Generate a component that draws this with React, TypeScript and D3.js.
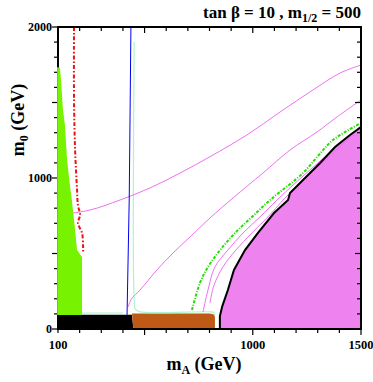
import React from 'react';
import * as d3 from 'd3';

// axis ranges and tick labels
const xDomain = [100, 1500];
const yDomain = [0, 2000];
const xTickLabels = [100, 1000, 1500];
const yTickLabels = [0, 1000, 2000];

// filled regions, [mA, m0]
const greenRegion = [[96, 1735], [109, 1728], [114, 1649], [123, 1450], [132, 1351], [142, 1119], [155, 954], [164, 854], [179, 656], [188, 523], [211, 477], [211, 93], [96, 93]];
const blackRegion = [[96, 0], [96, 95], [442, 95], [448, 0]];
const brownRegion = [[448, 0], [442, 103], [800, 103], [815, 100], [822, 93], [825, 80], [825, 0]];
const pinkBoundary = [[848, 0], [848, 86], [858, 146], [885, 258], [913, 391], [964, 523], [1024, 636], [1098, 768], [1163, 854], [1172, 901], [1232, 987], [1311, 1099], [1380, 1205], [1449, 1285], [1500, 1338]];

// contour lines
const magentaUpper = [[100, 755], [248, 788], [386, 854], [525, 934], [664, 1033], [816, 1152], [973, 1285], [1126, 1437], [1278, 1583], [1403, 1695], [1500, 1748]];
const magentaMid = [[424, 146], [440, 200], [479, 258], [557, 391], [631, 503], [710, 609], [802, 735], [909, 868], [1047, 1033], [1172, 1185], [1297, 1305], [1389, 1404], [1500, 1517]];
const magentaA = [[770, 113], [793, 258], [825, 411], [885, 523], [955, 636], [1033, 742], [1112, 854], [1191, 960], [1264, 1053], [1338, 1146], [1412, 1238], [1500, 1344]];
const magentaB = [[802, 172], [821, 291], [862, 411], [922, 523], [996, 636], [1070, 742], [1140, 854], [1214, 960], [1283, 1053], [1357, 1146], [1426, 1238], [1500, 1338]];
const greenDash = [[719, 126], [756, 305], [793, 411], [849, 523], [918, 636], [996, 742], [1080, 854], [1232, 1033], [1297, 1139], [1371, 1252], [1500, 1364]];
const redDash = [[174, 2000], [174, 1517], [179, 1185], [188, 921], [192, 821], [202, 755], [192, 702], [211, 636], [216, 543], [216, 505]];
const blueLine = [[437, 2000], [429, 854], [419, 93]];
const paleLeft = [[100, 106], [400, 106]];
const paleRight = [[452, 1900], [452, 200], [458, 130], [480, 113], [810, 113], [820, 108], [826, 95]];
const paleEdge = [[855, 150], [875, 230], [895, 300]];

const App = () => {
  const width = 373, height = 382;
  const x = d3.scaleLinear().domain(xDomain).range([58, 361]);
  const y = d3.scaleLinear().domain(yDomain).range([329, 27]);
  const area = d3.line<number[]>().x(d => x(d[0])).y(d => y(d[1]));
  const smooth = d3.line<number[]>().x(d => x(d[0])).y(d => y(d[1])).curve(d3.curveCatmullRom);
  const pinkPoly = pinkBoundary.concat([[1500, 0]]);
  const font = '"Liberation Serif", "Times New Roman", serif';

  const xTicks = d3.range(100, 1501, 100);
  const yTicks = d3.range(0, 2001, 100);

  return (
    <svg width={width} height={height} style={{ position: 'absolute', left: 0, top: 0 }}>
      <rect width={width} height={height} fill="white" />
      <path d={area(blackRegion) + 'Z'} fill="black" />
      <path d={area(brownRegion) + 'Z'} fill="#bf5a16" />
      <path d={area(pinkPoly) + 'Z'} fill="#ee82ee" />

      <path d={smooth(paleLeft)!} fill="none" stroke="#aaf5cc" strokeWidth={1.2} />
      <path d={smooth(paleRight)!} fill="none" stroke="#aaf5cc" strokeWidth={1.2} />
      <path d={smooth(paleEdge)!} fill="none" stroke="#aaf5cc" strokeWidth={1.2} />
      <path d={smooth(magentaUpper)!} fill="none" stroke="#f070f0" strokeWidth={1} />
      <path d={smooth(magentaMid)!} fill="none" stroke="#f070f0" strokeWidth={1} />
      <path d={smooth(magentaA)!} fill="none" stroke="#f070f0" strokeWidth={1} />
      <path d={smooth(magentaB)!} fill="none" stroke="#f070f0" strokeWidth={1} />
      <path d={area(blueLine)!} fill="none" stroke="#0000ee" strokeWidth={1} />
      <path d={smooth(greenDash)!} fill="none" stroke="#22dd00" strokeWidth={2} strokeDasharray="3,1.5,1,1.5" />
      <path d={smooth(redDash)!} fill="none" stroke="#ee1111" strokeWidth={2} strokeDasharray="4,2,1.5,2" />
      <path d={area(pinkBoundary)!} fill="none" stroke="black" strokeWidth={2} />

      {/* frame and ticks */}
      <rect x={58} y={27} width={303} height={302} fill="none" stroke="black" strokeWidth={2} />
      {xTicks.map(t => {
        const len = t % 500 === 0 ? 6 : 4;
        return (
          <g key={'x' + t}>
            <line x1={x(t)} x2={x(t)} y1={329} y2={329 + len} stroke="black" strokeWidth={1.2} />
            <line x1={x(t)} x2={x(t)} y1={27} y2={27 + len} stroke="black" strokeWidth={1.2} />
          </g>
        );
      })}
      {yTicks.map(t => {
        const len = t % 500 === 0 ? 6 : 4;
        return (
          <g key={'y' + t}>
            <line x1={58 - len} x2={58} y1={y(t)} y2={y(t)} stroke="black" strokeWidth={1.2} />
            <line x1={361 - len} x2={361} y1={y(t)} y2={y(t)} stroke="black" strokeWidth={1.2} />
          </g>
        );
      })}
      <path d={area(greenRegion) + 'Z'} fill="#77f200" />

      {xTickLabels.map(t => (
        <text key={'xl' + t} x={x(t)} y={349} textAnchor="middle" fontFamily={font} fontWeight="bold" fontSize={12.5}>{t}</text>
      ))}
      {yTickLabels.map(t => (
        <text key={'yl' + t} x={52} y={y(t) + 4} textAnchor="end" fontFamily={font} fontWeight="bold" fontSize={12}>{t}</text>
      ))}

      <text x={361} y={18} textAnchor="end" fontFamily={font} fontWeight="bold" fontSize={17}>
        tan β = 10 , m<tspan fontSize={12} dy={4}>1/2</tspan><tspan dy={-4}> = 500</tspan>
      </text>
      <text x={204} y={370} textAnchor="middle" fontFamily={font} fontWeight="bold" fontSize={18}>
        m<tspan fontSize={12} dy={4}>A</tspan><tspan dy={-4}> (GeV)</tspan>
      </text>
      <text transform="translate(24,120) rotate(-90)" textAnchor="middle" fontFamily={font} fontWeight="bold" fontSize={18}>
        m<tspan fontSize={12} dy={4}>0</tspan><tspan dy={-4}> (GeV)</tspan>
      </text>
    </svg>
  );
};

export default App;
